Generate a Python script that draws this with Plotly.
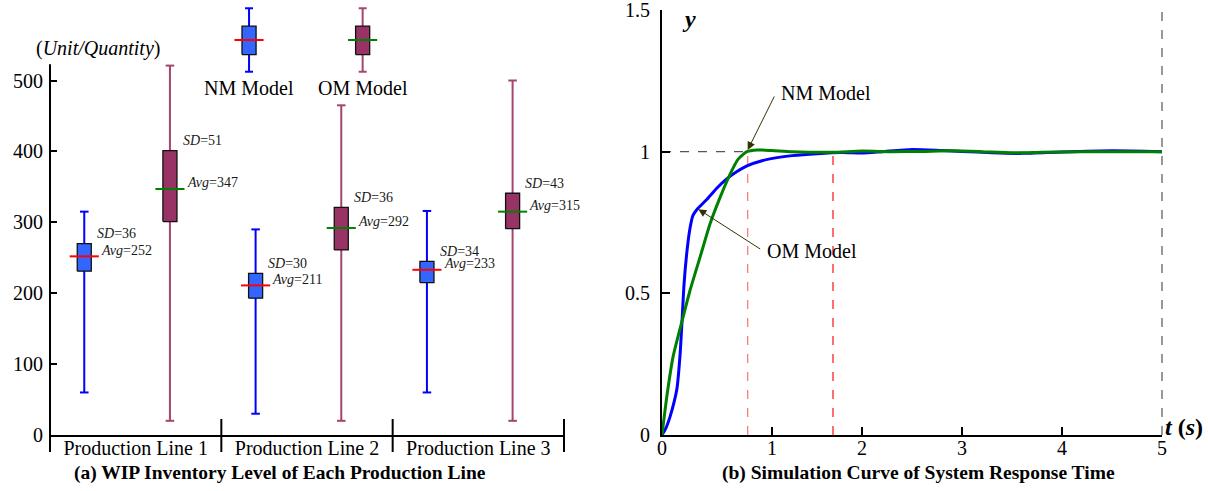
import plotly.graph_objects as go

# ---------------- data: (a) WIP inventory ----------------
lines = ["Production Line 1", "Production Line 2", "Production Line 3"]
nm_min = [60, 30, 60]
nm_q1 = [231, 193, 215]
nm_q3 = [270, 228, 245]
nm_max = [315, 290, 316]
nm_avg = [252, 211, 233]
nm_sd = [36, 30, 34]

om_min = [20, 20, 20]
om_q1 = [301, 261, 291]
om_q3 = [401, 321, 341]
om_max = [521, 465, 500]
om_avg = [347, 292, 315]
om_sd = [51, 36, 43]

y_ticks_a = [0, 100, 200, 300, 400, 500]

# ---------------- data: (b) response curves ----------------
t_om = [0, 0.04, 0.08, 0.12, 0.15, 0.18, 0.2, 0.22, 0.25, 0.28, 0.31, 0.36, 0.45,
        0.55, 0.65, 0.75, 0.85, 1.0, 1.15, 1.3, 1.55, 1.8, 2.0, 2.2, 2.5, 2.8,
        3.0, 3.3, 3.6, 4.0, 4.5, 5.0]
y_om = [0, 0.025, 0.064, 0.115, 0.165, 0.28, 0.40, 0.53, 0.65, 0.73, 0.775, 0.80,
        0.832, 0.872, 0.905, 0.93, 0.95, 0.968, 0.979, 0.986, 0.993, 0.997, 0.995,
        1.0, 1.008, 1.004, 1.001, 0.996, 0.994, 0.999, 1.003, 1.0]
t_nm = [0, 0.05, 0.11, 0.21, 0.28, 0.38, 0.48, 0.58, 0.68, 0.76, 0.85, 0.95, 1.1,
        1.3, 1.7, 2.0, 2.3, 2.6, 2.9, 3.2, 3.5, 3.8, 4.2, 4.6, 5.0]
y_nm = [0, 0.14, 0.275, 0.415, 0.51, 0.627, 0.745, 0.838, 0.92, 0.973, 1.0, 1.006,
        1.004, 1.0, 0.998, 1.002, 1.0, 1.001, 1.003, 1.0, 0.996, 0.998, 1.0, 1.0, 1.0]
x_tick_vals_b = [0, 1.1, 2, 3, 4, 5]
x_tick_text_b = ["0", "1", "2", "3", "4", "5"]
y_ticks_b = [0, 0.5, 1, 1.5]
t_settle_nm = 0.857
t_settle_om = 1.71

# ---------------- styling ----------------
W, H = 1208, 491
FONT = "Liberation Serif, Times New Roman, serif"
NM_FILL, NM_WHISK, NM_MEAN = "#3366FF", "#0000FF", "#FF0000"
OM_FILL, OM_WHISK, OM_MEAN = "#993366", "#A3456F", "#008000"


def px_x(p):
    return p / W


def px_y(p):
    return 1 - p / H


fig = go.Figure()


def glyphs(xs, lo, q1, avg, q3, hi, wcol, fcol, mcol, xa, ya, bw, mw, cw):
    wx, wy = [], []
    for x, a, b in zip(xs, lo, hi):
        wx += [x, x, None, x - cw, x + cw, None, x - cw, x + cw, None]
        wy += [a, b, None, a, a, None, b, b, None]
    fig.add_trace(go.Scatter(x=wx, y=wy, mode="lines", xaxis=xa, yaxis=ya,
                             line=dict(color=wcol, width=2), hoverinfo="skip"))
    bx, by = [], []
    for x, a, b in zip(xs, q1, q3):
        bx += [x - bw, x + bw, x + bw, x - bw, x - bw, None]
        by += [a, a, b, b, a, None]
    fig.add_trace(go.Scatter(x=bx, y=by, mode="lines", fill="toself", fillcolor=fcol,
                             xaxis=xa, yaxis=ya, line=dict(color="#111111", width=1.3),
                             hoverinfo="skip"))
    mx, my = [], []
    for x, m in zip(xs, avg):
        mx += [x - mw, x + mw, None]
        my += [m, m, None]
    fig.add_trace(go.Scatter(x=mx, y=my, mode="lines", xaxis=xa, yaxis=ya,
                             line=dict(color=mcol, width=2), hoverinfo="skip"))


nm_pos = [i + 0.2 for i in range(len(lines))]
om_pos = [i + 0.7 for i in range(len(lines))]
glyphs(nm_pos, nm_min, nm_q1, nm_avg, nm_q3, nm_max, NM_WHISK, NM_FILL, NM_MEAN,
       "x", "y", 0.041, 0.085, 0.025)
glyphs(om_pos, om_min, om_q1, om_avg, om_q3, om_max, OM_WHISK, OM_FILL, OM_MEAN,
       "x", "y", 0.041, 0.085, 0.025)

# legend glyphs (generic shapes on their own small axes)
glyphs([0.144], [0], [0.27], [0.5], [0.72], [1], NM_WHISK, NM_FILL, NM_MEAN,
       "x3", "y3", 0.044, 0.091, 0.025)
glyphs([0.854], [0], [0.27], [0.5], [0.72], [1], OM_WHISK, OM_FILL, OM_MEAN,
       "x3", "y3", 0.044, 0.091, 0.025)

# ---------------- (b) curves ----------------
fig.add_trace(go.Scatter(x=t_om, y=y_om, mode="lines", xaxis="x2", yaxis="y2",
                         line=dict(color="#0000FF", width=3, shape="spline", smoothing=0.6),
                         hoverinfo="skip"))
fig.add_trace(go.Scatter(x=t_nm, y=y_nm, mode="lines", xaxis="x2", yaxis="y2",
                         line=dict(color="#008000", width=3, shape="spline", smoothing=0.6),
                         hoverinfo="skip"))

shapes = []
# left y axis line (partial) and category separators
shapes.append(dict(type="line", xref="x domain", yref="y", x0=0, x1=0, y0=0, y1=523,
                   line=dict(color="black", width=2)))
for i in range(len(lines) + 1):
    shapes.append(dict(type="line", xref="x domain", yref="y domain",
                       x0=i / len(lines), x1=i / len(lines), y0=-17 / 432, y1=16 / 432,
                       line=dict(color="black", width=2)))
# reference lines in (b)
shapes.append(dict(type="line", xref="x2", yref="y2", x0=0, x1=t_settle_nm, y0=1, y1=1,
                   line=dict(color="#555555", width=1.2, dash="dash"), layer="below"))
shapes.append(dict(type="line", xref="x2", yref="y2", x0=t_settle_nm, x1=t_settle_nm, y0=0, y1=1,
                   line=dict(color="#FF7070", width=1.2, dash="dash"), layer="below"))
shapes.append(dict(type="line", xref="x2", yref="y2", x0=t_settle_om, x1=t_settle_om, y0=0, y1=1,
                   line=dict(color="#FF1010", width=1.2, dash="dash"), layer="below"))
shapes.append(dict(type="line", xref="x2 domain", yref="y2", x0=1, x1=1, y0=0, y1=1.5,
                   line=dict(color="#555555", width=1.2, dash="dash")))

ann = []
ital = dict(family=FONT, size=14, color="#1a1a1a")
for i in range(len(lines)):
    for pos, q3, avg, sd in ((nm_pos[i], nm_q3[i], nm_avg[i], nm_sd[i]),
                             (om_pos[i], om_q3[i], om_avg[i], om_sd[i])):
        ann.append(dict(xref="x", yref="y", x=pos + 0.062, y=q3, yshift=10,
                        text=f"<i>SD</i>={sd}", showarrow=False, xanchor="left",
                        yanchor="middle", font=ital))
        ann.append(dict(xref="x", yref="y", x=pos + 0.085, y=avg, yshift=6,
                        text=f"<i>Avg</i>={avg}", showarrow=False, xanchor="left",
                        yanchor="middle", font=ital))

big = dict(family=FONT, size=20, color="black")
ann.append(dict(xref="x3", yref="y3", x=0.144, y=-0.05, text="NM Model", showarrow=False,
                xanchor="center", yanchor="top", font=big))
ann.append(dict(xref="x3", yref="y3", x=0.854, y=-0.05, text="OM Model", showarrow=False,
                xanchor="center", yanchor="top", font=big))
ann.append(dict(xref="paper", yref="paper", x=px_x(98), y=px_y(48),
                text="(<i>Unit/Quantity</i>)", showarrow=False, xanchor="center",
                yanchor="middle", font=big))
title_font = dict(family=FONT, size=19.5, color="black")
ann.append(dict(xref="paper", yref="paper", x=px_x(280), y=px_y(473),
                text="<b>(a) WIP Inventory Level of Each Production Line</b>",
                showarrow=False, xanchor="center", yanchor="middle", font=title_font))
ann.append(dict(xref="paper", yref="paper", x=px_x(918), y=px_y(473),
                text="<b>(b) Simulation Curve of System Response Time</b>",
                showarrow=False, xanchor="center", yanchor="middle", font=title_font))
ann.append(dict(xref="paper", yref="paper", x=px_x(1163), y=px_y(427),
                text="<b><i>t</i> (<i>s</i>)</b>", showarrow=False, xanchor="left",
                yanchor="middle", font=dict(family=FONT, size=24, color="black")))
ann.append(dict(xref="paper", yref="paper", x=px_x(689), y=px_y(19),
                text="<b><i>y</i></b>", showarrow=False, xanchor="center",
                yanchor="middle", font=dict(family=FONT, size=24, color="black")))
# arrows
ann.append(dict(xref="x2", yref="y2", axref="x2", ayref="y2", x=0.857, y=1.006,
                ax=1.13, ay=1.2, text="", showarrow=True, arrowhead=2, arrowsize=1.6,
                arrowwidth=1, arrowcolor="#333300", standoff=0))
ann.append(dict(xref="x2", yref="y2", x=1.17, y=1.206, text="NM Model", showarrow=False,
                xanchor="left", yanchor="middle", font=big))
ann.append(dict(xref="x2", yref="y2", axref="x2", ayref="y2", x=0.363, y=0.797,
                ax=0.997, ay=0.653, text="", showarrow=True, arrowhead=2, arrowsize=1.6,
                arrowwidth=1, arrowcolor="#333300", standoff=0))
ann.append(dict(xref="x2", yref="y2", x=1.03, y=0.65, text="OM Model", showarrow=False,
                xanchor="left", yanchor="middle", font=big))

ax_common = dict(showgrid=False, zeroline=False, ticklabeloverflow="allow", automargin=False,
                 tickfont=dict(family=FONT, size=20, color="black"))
fig.update_layout(
    width=W, height=H, margin=dict(l=0, r=0, t=0, b=0, pad=0, autoexpand=False),
    paper_bgcolor="white", plot_bgcolor="white", showlegend=False,
    xaxis=dict(domain=[px_x(50), px_x(564)], range=[0, 3], tickvals=[0.5, 1.5, 2.5],
               ticktext=lines, ticks="", showline=True, linecolor="black", linewidth=2,
               anchor="y", ticklabelstandoff=-6, **ax_common),
    yaxis=dict(domain=[px_y(435), px_y(3)], range=[0, 432 / 0.709], tickvals=y_ticks_a,
               ticks="inside", ticklen=7, tickwidth=1.5, tickcolor="black", showline=False,
               anchor="x", ticklabelstandoff=6, **ax_common),
    xaxis2=dict(domain=[px_x(662), px_x(1162)], range=[0, 5], tickvals=x_tick_vals_b,
                ticktext=x_tick_text_b, ticks="inside", ticklen=8, tickwidth=1.5,
                tickcolor="black", showline=True, linecolor="black", linewidth=2,
                anchor="y2", ticklabelstandoff=-6, **ax_common),
    yaxis2=dict(domain=[px_y(435), px_y(10)], range=[0, 1.5], tickvals=y_ticks_b,
                ticktext=["0", "0.5", "1", "1.5"], ticks="inside", ticklen=8, tickwidth=1.5,
                tickcolor="black", showline=True, linecolor="black", linewidth=2,
                anchor="x2", ticklabelstandoff=6, **ax_common),
    xaxis3=dict(domain=[px_x(226), px_x(386)], range=[0, 1], visible=False, anchor="y3"),
    yaxis3=dict(domain=[px_y(74.9), px_y(5.1)], range=[-0.05, 1.05], visible=False, anchor="x3"),
    shapes=shapes, annotations=ann,
)

fig.write_html("out.html", config={"displayModeBar": False},
               post_script="document.body.style.margin='0';")
